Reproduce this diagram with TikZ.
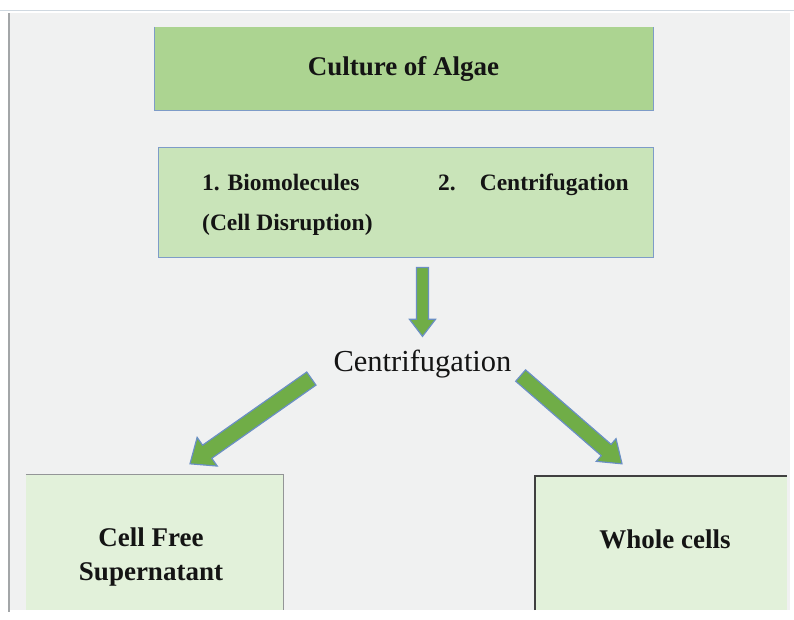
\documentclass[tikz,border=0pt]{standalone}
\usepackage{fontspec}
\setmainfont{Liberation Serif}
\usepackage{tikz}
\usetikzlibrary{calc}

\definecolor{bggrey}{HTML}{F0F1F1}
\definecolor{linegrey}{HTML}{A3A6A8}
\definecolor{topline}{HTML}{CFD8E0}
\definecolor{boxblue}{HTML}{7E9CC8}
\definecolor{darkgreen}{HTML}{ACD491}
\definecolor{midgreen}{HTML}{C9E4B9}
\definecolor{palegreen}{HTML}{E2F1DA}
\definecolor{arrowgreen}{HTML}{70AD47}
\definecolor{arrowblue}{HTML}{6A8FC4}
\definecolor{textblack}{HTML}{141414}

\tikzset{
  stepbox/.style={draw=boxblue, line width=1pt, inner sep=0pt},
  resultbox/.style={fill=palegreen, inner sep=0pt},
  bigarrow/.style={draw=arrowblue, fill=arrowgreen, line width=1.2pt, line join=miter},
  boldlabel/.style={inner sep=0pt, text=textblack, font=\bfseries\fontsize{27}{34}\selectfont},
  steplabel/.style={inner sep=0pt, anchor=base west, text=textblack, font=\bfseries\fontsize{23.5}{28}\selectfont},
}

% block arrow: start, end, half shaft width, half head width, head length
\newcommand{\blockarrow}[5]{%
  \path (#1); \pgfgetlastxy{\arrx}{\arry}
  \path (#2); \pgfgetlastxy{\arrtx}{\arrty}
  \pgfmathsetmacro{\arrlen}{veclen(\arrtx-\arrx,\arrty-\arry)}
  \pgfmathsetmacro{\arrang}{atan2(\arrty-\arry,\arrtx-\arrx)}
  \pgfmathsetmacro{\arrbase}{\arrlen-#5}
  \begin{scope}[shift={(\arrx,\arry)}, rotate=\arrang]
    \draw[bigarrow] (0pt,#3pt) -- (\arrbase pt,#3pt) -- (\arrbase pt,#4pt) -- (\arrlen pt,0pt)
      -- (\arrbase pt,-#4pt) -- (\arrbase pt,-#3pt) -- (0pt,-#3pt) -- cycle;
  \end{scope}
}

\begin{document}
\begin{tikzpicture}[x=1pt, y=-1pt]
      % Slide background
      \fill[white] (0,0) rectangle (794,619);
      \useasboundingbox (0,0) rectangle (794,619);
      \fill[bggrey] (9,13) rectangle (790,610);
      \draw[topline, line width=1pt] (0,10) -- (794,10);
      \draw[linegrey, line width=1.2pt] (9,13) -- (9,612);

      % Draw the two boxes on top
      \node[fill=darkgreen, inner sep=0pt, minimum width=498pt, minimum height=83pt] (culture) at (404,68.5) {};
      \draw[boxblue, line width=1pt] (culture.north west) -- (culture.south west) -- (culture.south east) -- (culture.north east);
      \node[boldlabel] (culturetext) at (403.5,68.5) {Culture of Algae};
      \node[stepbox, fill=midgreen, minimum width=495pt, minimum height=110pt] (steps) at (405.5,202) {};
      \node[steplabel] (bio) at (202,190) {1. Biomolecules};
      \node[steplabel] (cen) at (438,190) {2.\hspace{24pt}Centrifugation};
      \node[steplabel] (disr) at (202,230) {(Cell Disruption)};

      % The centrifugation step
      \node[inner sep=0pt, anchor=base, text=textblack, font=\fontsize{30.5}{34}\selectfont] (centri) at (422.5,371) {Centrifugation};

      % Draw the two result boxes
      \node[resultbox, minimum width=257pt, minimum height=135pt] (supern) at (154.5,542.5) {};
      \draw[linegrey!90!black, line width=1pt] (supern.north west) -- (supern.north east) -- (supern.south east);
      \node[boldlabel, align=center] (superntext) at (151,557) {Cell Free\\Supernatant};
      \node[resultbox, minimum width=252pt, minimum height=134pt] (whole) at (661,543) {};
      \draw[black!75, line width=1.5pt] (whole.south west) -- (whole.north west) -- (whole.north east);
      \node[boldlabel, anchor=base] (wholetext) at (665,548) {Whole cells};

      % Draw the block arrows
      \coordinate (d0) at ([yshift=-10pt]steps.south -| centri);
      \coordinate (d1) at ([yshift=13pt]centri.north);
      \blockarrow{d0}{d1}{6}{13}{17}
      \coordinate (l0) at ([xshift=-22pt,yshift=-15pt]centri.west);
      \coordinate (l1) at ([xshift=35.5pt,yshift=11pt]supern.north);
      \blockarrow{l0}{l1}{8}{17.5}{21}
      \coordinate (r0) at ([xshift=9pt,yshift=-12pt]centri.east);
      \coordinate (r1) at ([xshift=-39pt,yshift=12pt]whole.north);
      \blockarrow{r0}{r1}{7.5}{15}{21}
  \end{tikzpicture}
\end{document}
